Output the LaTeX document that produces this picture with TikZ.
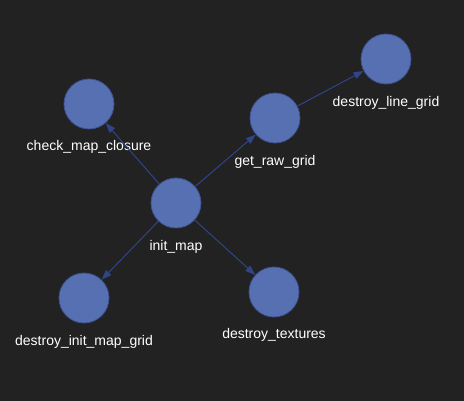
\documentclass[tikz,border=0pt]{standalone}
\usepackage{fontspec}
\setmainfont{Liberation Sans}
\usetikzlibrary{arrows.meta}
\definecolor{bg}{HTML}{222222}
\definecolor{nodefill}{HTML}{5670B2}
\definecolor{nodeline}{HTML}{3E5190}
\definecolor{edgecol}{HTML}{2F4587}
\begin{document}
\begin{tikzpicture}[x=1pt,y=-1pt,
  gnode/.style={circle,fill=nodefill,draw=nodeline,line width=0.8pt,minimum size=50pt,inner sep=0pt},
  glabel/.style={text=white,font=\fontsize{14}{16}\selectfont,inner sep=0pt,anchor=center},
  gedge/.style={draw=edgecol,line width=1pt,-{Triangle[length=10pt,width=7pt]},shorten >=0pt}]
\fill[bg] (0,0) rectangle (464,401);
\useasboundingbox (0,0) rectangle (464,401);
\node[gnode] (init) at (176,203) {};
\node[gnode] (check) at (89,104) {};
\node[gnode] (raw) at (275,118) {};
\node[gnode] (line) at (386,59) {};
\node[gnode] (dimg) at (84,298) {};
\node[gnode] (tex) at (274,292) {};
\node[glabel] (linit) at (176,247) {init\_map};
\node[glabel] (lcheck) at (89,147) {check\_map\_closure};
\node[glabel] (lraw) at (275,162) {get\_raw\_grid};
\node[glabel] (lline) at (386,103) {destroy\_line\_grid};
\node[glabel] (ldimg) at (84,342) {destroy\_init\_map\_grid};
\node[glabel] (ltex) at (274,335) {destroy\_textures};
\draw[gedge] (init) -- (check);
\draw[gedge] (init) -- (raw);
\draw[gedge] (init) -- (dimg);
\draw[gedge] (init) -- (tex);
\draw[gedge] (raw) -- (line);
\end{tikzpicture}
\end{document}
